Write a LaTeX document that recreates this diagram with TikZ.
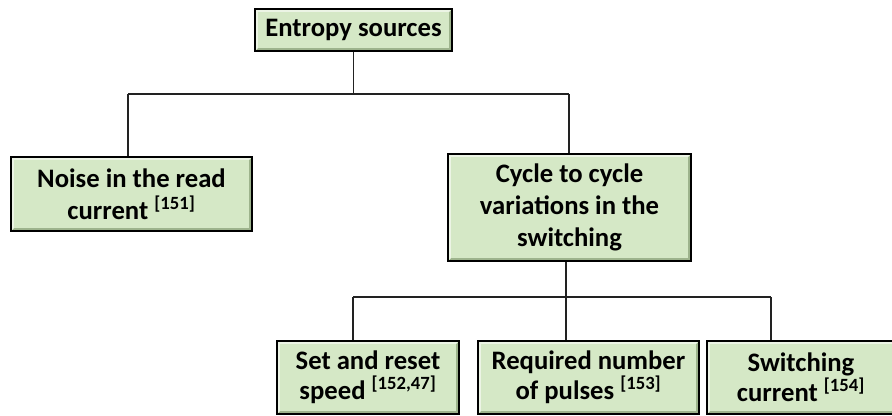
\documentclass[tikz,border=0pt]{standalone}
\usepackage{fontspec}
\setmainfont{Carlito}
\definecolor{boxgreen}{HTML}{D5E8C6}
\definecolor{bevelgreen}{HTML}{9DB38C}
\definecolor{linegray}{HTML}{222222}
\begin{document}
\begin{tikzpicture}[x=0.75pt,y=-0.75pt,
  srcbox/.style={draw=black, fill=boxgreen, line width=1.1pt, inner sep=0pt,
    align=center, font=\bfseries\fontsize{20}{24}\selectfont, text=black,
    path picture={
      \draw[bevelgreen, line width=1.6pt]
        ([shift={(1.2pt,1.4pt)}]path picture bounding box.south west) --
        ([shift={(-1.4pt,1.4pt)}]path picture bounding box.south east) --
        ([shift={(-1.4pt,-1.2pt)}]path picture bounding box.north east);
      \draw[white, opacity=.55, line width=1.2pt]
        ([shift={(1.3pt,1.6pt)}]path picture bounding box.south west) --
        ([shift={(1.3pt,-1.3pt)}]path picture bounding box.north west) --
        ([shift={(-1.6pt,-1.3pt)}]path picture bounding box.north east);
    }},
  lowbox/.style={srcbox, font=\bfseries\fontsize{20}{22.5}\selectfont},
  link/.style={draw=linegray, line width=1.1pt}]
  \useasboundingbox (0,0) rectangle (892,415);

  % top level
  \node[srcbox, minimum width=147.75pt, minimum height=31.5pt] (ent) at (353.5,30) {Entropy sources};

  % second level
  \node[srcbox, minimum width=180.75pt, minimum height=55.5pt] (noise) at (131.5,194)
    {Noise in the read\\current \textsuperscript{[151]}};
  \node[srcbox, minimum width=182.25pt, minimum height=80.25pt] (cyc) at (569.5,207.5)
    {Cycle to cycle\\variations in the\\switching};

  % third level
  \node[lowbox, minimum width=136.5pt, minimum height=54.75pt] (setr) at (368,377.5)
    {Set and reset\\speed \textsuperscript{[152,47]}};
  \node[lowbox, minimum width=165.75pt, minimum height=54.75pt] (req) at (588.5,377.5)
    {Required number\\of pulses \textsuperscript{[153]}};
  \node[lowbox, minimum width=141pt, minimum height=54.75pt] (sw) at (801,377.5)
    {Switching\\current \textsuperscript{[154]}};

  % junctions of the tree
  \coordinate (ta) at (128,94);
  \coordinate (tb) at (569,94);
  \coordinate (ba) at (353,297);
  \coordinate (bb) at (771,297);

  % connectors, level one to two
  \draw[link] (ent.south) -- (ent.south |- ta);
  \draw[link] (ta) -- (tb);
  \draw[link] (ta) -- (ta |- noise.north);
  \draw[link] (tb) -- (tb |- cyc.north);

  % connectors, level two to three
  \coordinate (cb) at ([xshift=-2.6pt]cyc.south);
  \draw[link] (cb) -- (cb |- req.north);
  \draw[link] (ba) -- (bb);
  \draw[link] (ba) -- (ba |- setr.north);
  \draw[link] (bb) -- (bb |- sw.north);
\end{tikzpicture}
\end{document}
